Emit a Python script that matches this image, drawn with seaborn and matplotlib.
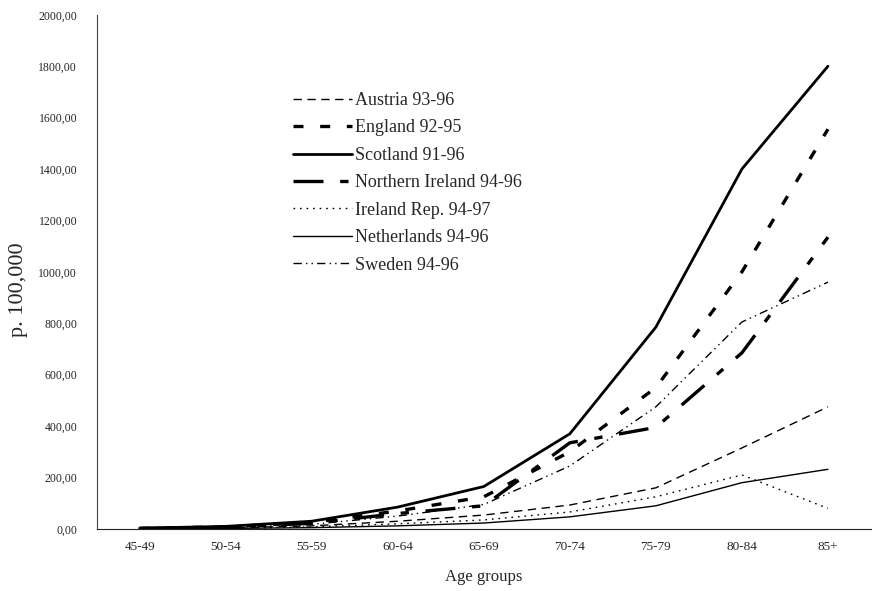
import matplotlib
matplotlib.use("Agg")
import matplotlib.pyplot as plt
import seaborn as sns
import numpy as np
import pandas as pd
from matplotlib.ticker import FuncFormatter

age_groups = ["45-49", "50-54", "55-59", "60-64", "65-69", "70-74", "75-79", "80-84", "85+"]

austria = [1, 4, 12, 30, 54, 93, 160, 315, 475]
england = [2, 8, 25, 70, 125, 300, 550, 1000, 1555]
scotland = [3, 10, 30, 85, 165, 370, 785, 1400, 1800]
n_ireland = [2, 7, 22, 60, 90, 335, 395, 685, 1135]
ireland_rep = [1, 3, 8, 20, 35, 66, 125, 210, 80]
netherlands = [1, 2, 5, 12, 23, 47, 90, 180, 232]
sweden = [2, 6, 18, 50, 95, 245, 475, 805, 960]

labels = ["Austria 93-96", "England 92-95", "Scotland 91-96", "Northern Ireland 94-96",
          "Ireland Rep. 94-97", "Netherlands 94-96", "Sweden 94-96"]
series = [austria, england, scotland, n_ireland, ireland_rep, netherlands, sweden]

styles = [
    dict(lw=1.0, ls=(0, (6, 4))),
    dict(lw=2.4, ls=(0, (3, 5))),
    dict(lw=2.0, ls="-"),
    dict(lw=2.4, ls=(0, (9, 5, 2.5, 5))),
    dict(lw=1.0, ls=(0, (1.2, 3.5))),
    dict(lw=1.0, ls="-"),
    dict(lw=1.0, ls=(0, (6, 3, 1, 3, 1, 3))),
]

sns.set_style("white")
plt.rcParams['font.family'] = ['Liberation Serif', 'DejaVu Serif']

fig = plt.figure(figsize=(8.78, 5.91), dpi=100)
ax = fig.add_axes([0.110, 0.105, 0.882, 0.870])

x = np.arange(len(age_groups))
for lab, vals, st in zip(labels, series, styles):
    df = pd.DataFrame({"x": x, "y": vals})
    sns.lineplot(data=df, x="x", y="y", ax=ax, color="black",
                 linewidth=st["lw"], linestyle=st["ls"], label=lab)

ax.set_xlim(-0.5, len(age_groups) - 0.5)
ax.set_ylim(0, 2000)
ax.set_yticks(np.arange(0, 2001, 200))
ax.yaxis.set_major_formatter(FuncFormatter(lambda v, p: f"{v:.2f}".replace(".", ",")))
ax.set_xticks(np.arange(-0.5, len(age_groups), 1.0))
ax.set_xticklabels([])
ax.set_xticks(x, minor=True)
ax.set_xticklabels(age_groups, minor=True)
ax.tick_params(axis="x", which="major", direction="out", length=4, width=0.8, color="#333333")
ax.tick_params(axis="x", which="minor", length=0, labelsize=9.5, pad=9)
ax.tick_params(axis="y", direction="out", length=4, width=0.8, labelsize=8.5, color="#333333", pad=10)

for s in ["top", "right"]:
    ax.spines[s].set_visible(False)
ax.spines["left"].set_color("#444444")
ax.spines["bottom"].set_color("#222222")
ax.spines["left"].set_linewidth(0.8)
ax.spines["bottom"].set_linewidth(0.8)

ax.set_xlabel("Age groups", fontsize=12, labelpad=11)
ax.set_ylabel("p. 100,000", fontsize=16)
ax.yaxis.set_label_coords(-0.089, 0.465)

leg = ax.legend(loc="upper left", bbox_to_anchor=(0.253, 0.85), frameon=False,
                fontsize=13, handlelength=3.3, handletextpad=0.15,
                labelspacing=0.58, borderaxespad=0, borderpad=0)

fig.savefig("out.png", dpi=100)
